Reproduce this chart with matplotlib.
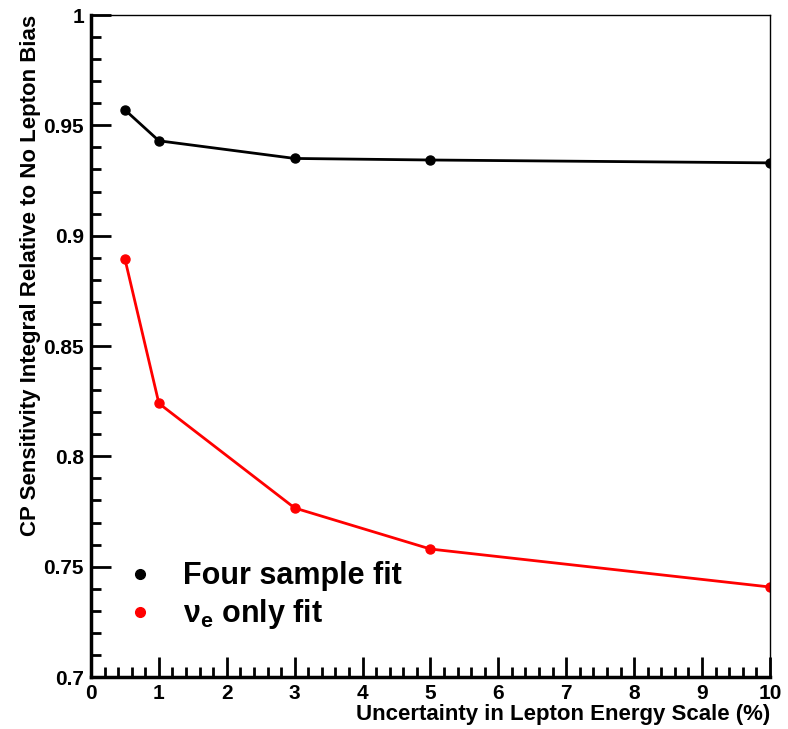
import numpy as np
import matplotlib
matplotlib.use("Agg")
import matplotlib.pyplot as plt
from matplotlib.lines import Line2D
from matplotlib.ticker import MultipleLocator

plt.rcParams["font.family"] = ["Liberation Sans", "DejaVu Sans"]
plt.rcParams["mathtext.fontset"] = "custom"
plt.rcParams["mathtext.rm"] = "Liberation Sans"
plt.rcParams["mathtext.bf"] = "Liberation Sans:bold"

# data
lepton_scale = [0.5, 1, 3, 5, 10]
four_sample = [0.957, 0.943, 0.935, 0.9343, 0.933]
nue_only = [0.8894, 0.824, 0.7766, 0.758, 0.7408]

fig = plt.figure(figsize=(7.88, 7.29), dpi=100)
ax = fig.add_axes([0.1155, 0.0713, 0.977 - 0.1155, 0.9794 - 0.0713])

ax.plot(lepton_scale, four_sample, color="black", lw=2.0, marker="o", ms=6.5)
ax.plot(lepton_scale, nue_only, color="red", lw=2.0, marker="o", ms=6.5)

ax.set_xlim(0, 10)
ax.set_ylim(0.7, 1.0)
ax.xaxis.set_major_locator(MultipleLocator(1))
ax.xaxis.set_minor_locator(MultipleLocator(0.2))
ax.yaxis.set_major_locator(MultipleLocator(0.05))
ax.yaxis.set_minor_locator(MultipleLocator(0.01))
ax.set_yticks([0.7, 0.75, 0.8, 0.85, 0.9, 0.95, 1.0])
ax.set_yticklabels(["0.7", "0.75", "0.8", "0.85", "0.9", "0.95", "1"])

ax.tick_params(which="both", direction="in", width=2, labelsize=15)
ax.tick_params(which="major", length=14.5, pad=5)
ax.tick_params(which="minor", length=7.5)
for lbl in ax.get_xticklabels() + ax.get_yticklabels():
    lbl.set_fontweight("bold")

ax.spines["left"].set_linewidth(2.5)
ax.spines["bottom"].set_linewidth(2.5)
ax.spines["top"].set_linewidth(1)
ax.spines["right"].set_linewidth(1)

ax.set_xlabel("Uncertainty in Lepton Energy Scale (%)", fontsize=16,
              fontweight="bold", loc="right", labelpad=1)
ax.set_ylabel("CP Sensitivity Integral Relative to No Lepton Bias", fontsize=16,
              fontweight="bold", loc="top", labelpad=2)

handles = [
    Line2D([], [], color="black", marker="o", ls="none", ms=7),
    Line2D([], [], color="red", marker="o", ls="none", ms=7),
]
labels = ["Four sample fit", r"ν$_{\mathbf{e}}$ only fit"]
leg = ax.legend(handles, labels, loc="lower left", bbox_to_anchor=(0.05, 0.069),
                frameon=False, prop={"size": 22, "weight": "bold"},
                handlelength=1.0, handletextpad=0.9, labelspacing=0.2,
                borderpad=0, borderaxespad=0)

fig.savefig("out.png", dpi=100)
